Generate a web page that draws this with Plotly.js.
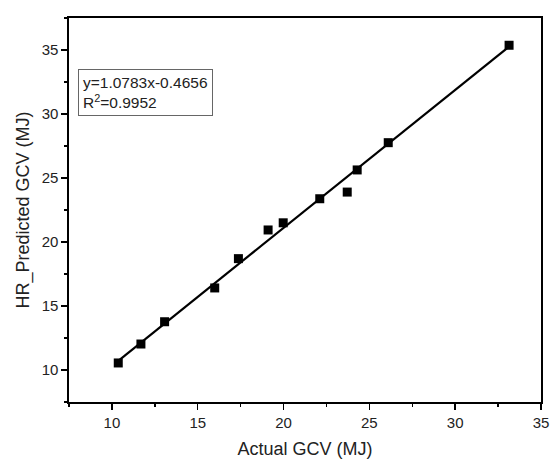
<!DOCTYPE html>
<html>
<head>
<meta charset="utf-8">
<script src="https://cdn.plot.ly/plotly-3.0.1.min.js"></script>
<style>html,body{margin:0;padding:0;background:#fff;}#chart{width:559px;height:460px;}</style>
</head>
<body>
<div id="chart"></div>
<script>
var actualGCV = [10.37, 11.69, 13.07, 15.99, 17.37, 19.10, 19.98, 22.11, 23.71, 24.29, 26.10, 33.14];
var predictedGCV = [10.55, 12.03, 13.77, 16.41, 18.70, 20.94, 21.50, 23.38, 23.90, 25.63, 27.76, 35.37];
var fitX = [10.37, 33.14];
var fitY = [10.72, 35.27];
var xTicks = [10, 15, 20, 25, 30, 35];
var yTicks = [10, 15, 20, 25, 30, 35];
var eqText = 'y=1.0783x-0.4656<br>R<sup>2</sup>=0.9952';

var font = 'Liberation Sans, Arial, sans-serif';
var traces = [
  {x: fitX, y: fitY, mode: 'lines', line: {color: '#000', width: 2.2}, hoverinfo: 'skip', showlegend: false},
  {x: actualGCV, y: predictedGCV, mode: 'markers', marker: {symbol: 'square', size: 9, color: '#000'}, showlegend: false}
];
var axisCommon = {
  showline: true, linecolor: '#000', linewidth: 1.6, mirror: true,
  showgrid: false, zeroline: false,
  ticks: 'outside', ticklen: 6, tickwidth: 1.4, tickcolor: '#000',
  tickfont: {family: font, size: 15, color: '#222'},
  minor: {ticks: 'outside', ticklen: 3, tickwidth: 1.4, tickcolor: '#000', dtick: 2.5, showgrid: false}
};
var layout = {
  width: 559, height: 460,
  margin: {l: 69, r: 18, t: 18, b: 58},
  paper_bgcolor: '#fff', plot_bgcolor: '#fff',
  xaxis: Object.assign({}, axisCommon, {
    range: [7.5, 35], tickvals: xTicks, ticktext: xTicks.map(String),
    title: {text: 'Actual GCV (MJ)', font: {family: font, size: 18, color: '#222'}, standoff: 13}
  }),
  yaxis: Object.assign({}, axisCommon, {
    range: [7.5, 37.5], tickvals: yTicks, ticktext: yTicks.map(String),
    title: {text: 'HR_Predicted GCV (MJ)', font: {family: font, size: 18, color: '#222'}, standoff: 7}
  }),
  annotations: [{
    xref: 'paper', yref: 'paper', x: 0.019, y: 0.868, xanchor: 'left', yanchor: 'top',
    text: eqText, showarrow: false, align: 'left',
    font: {family: font, size: 15.5, color: '#222'},
    bordercolor: '#666', borderwidth: 1, borderpad: 4, bgcolor: '#fff'
  }]
};
Plotly.newPlot('chart', traces, layout, {displayModeBar: false, staticPlot: true});
</script>
</body>
</html>
